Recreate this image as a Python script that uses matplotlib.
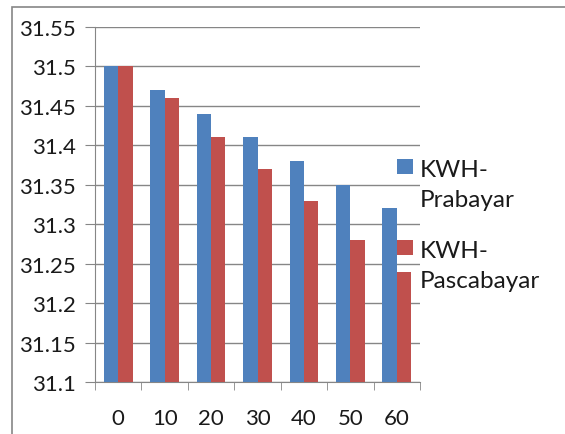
import matplotlib.pyplot as plt
import numpy as np
from matplotlib.patches import Rectangle

categories = ["0", "10", "20", "30", "40", "50", "60"]
prabayar = [31.50, 31.47, 31.44, 31.41, 31.38, 31.35, 31.32]
pascabayar = [31.50, 31.46, 31.41, 31.37, 31.33, 31.28, 31.24]
series_names = ["KWH-\nPrabayar", "KWH-\nPascabayar"]
colors = ["#4F81BD", "#C0504D"]

plt.rcParams["font.family"] = ["Lato", "DejaVu Sans"]

W, H = 565, 435
fig = plt.figure(figsize=(W / 100, H / 100), dpi=100)
ax = fig.add_axes([95 / W, 1 - 383 / H, (420 - 95) / W, (383 - 28) / H])


def px(x, y):
    # pixel position (from top-left) -> figure fraction
    return x / W, 1 - y / H


x = np.arange(len(categories))
bw = 0.31
base = 31.1
for i, vals in enumerate([prabayar, pascabayar]):
    ax.bar(x + (i - 0.5) * bw, np.array(vals) - base, bw, bottom=base,
           color=colors[i], zorder=3)

ax.set_xlim(-0.5, len(categories) - 0.5)
ax.set_ylim(31.1, 31.55)
yt = np.round(np.arange(31.1, 31.551, 0.05), 2)
ax.set_yticks(yt)
ax.set_yticklabels([f"{v:g}" for v in yt], fontsize=16, color="#1a1a1a")
ax.set_xticks(x)
ax.set_xticklabels(categories, fontsize=16, color="#1a1a1a")
ax.set_xticks(np.arange(-0.5, len(categories)), minor=True)
ax.tick_params(axis="x", which="major", length=0, pad=19)
ax.tick_params(axis="x", which="minor", length=6, color="#868686", direction="out")
ax.tick_params(axis="y", length=7, color="#868686", pad=7)
ax.grid(axis="y", color="#868686", linewidth=1, zorder=0)

for side in ["top", "right"]:
    ax.spines[side].set_visible(False)
for side in ["left", "bottom"]:
    ax.spines[side].set_color("#868686")

# legend: colour squares with two-line labels, sitting over the right edge of the plot
legend_tops = [160, 241]
for i, name in enumerate(series_names):
    top = legend_tops[i]
    x0, y0 = px(397, top + 15)
    fig.patches.append(Rectangle((x0, y0), 16 / W, 15 / H, transform=fig.transFigure,
                                 facecolor=colors[i], edgecolor="none", zorder=5))
    for j, line in enumerate(name.split("\n")):
        tx, ty = px(420, top + 17 + 30 * j)
        fig.text(tx, ty, line, fontsize=17.5, color="#1a1a1a", va="baseline",
                 ha="left", zorder=6)

# outer chart border
fig.patches.append(Rectangle((12 / W, -0.1), 1.2, 1 - 8 / H + 0.1, transform=fig.transFigure,
                             fill=False, edgecolor="#868686", linewidth=1.2))

fig.savefig("out.png", dpi=100)
